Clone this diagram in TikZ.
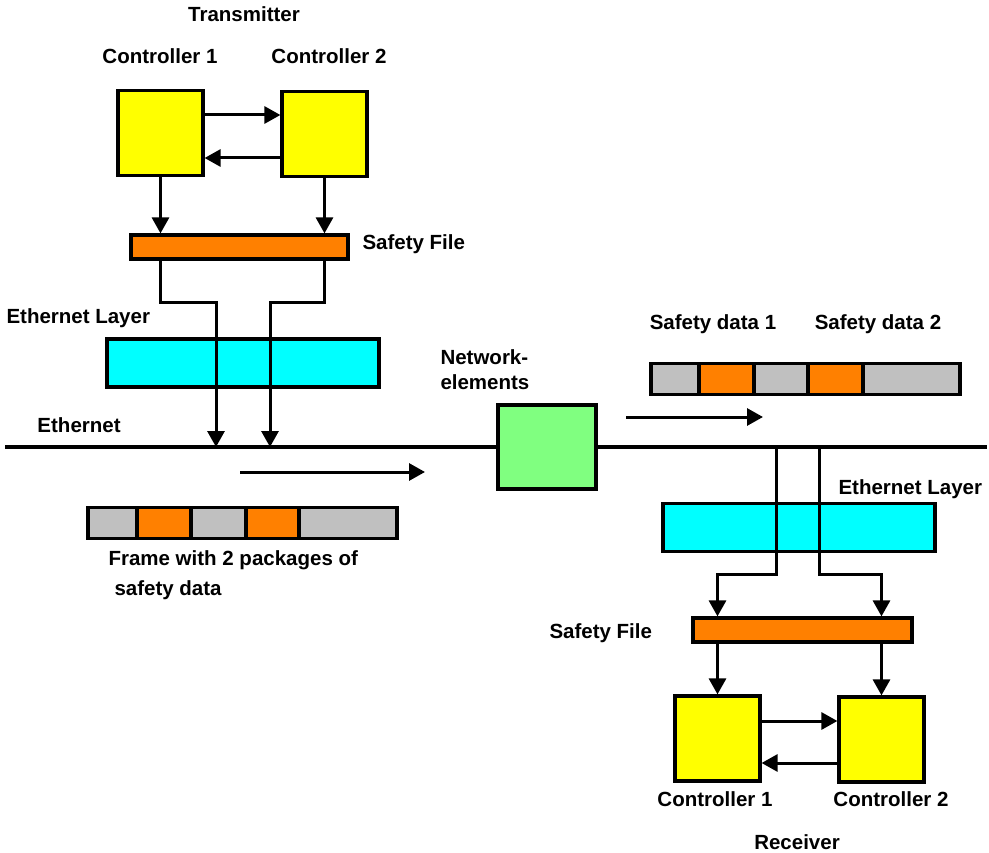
\documentclass[tikz,border=0pt]{standalone}
\usepackage{fontspec}
\setmainfont{Liberation Sans}
\usetikzlibrary{arrows.meta,positioning}
\definecolor{ctrlyellow}{HTML}{FFFF00}
\definecolor{fileorange}{HTML}{FF8000}
\definecolor{layercyan}{HTML}{00FFFF}
\definecolor{netgreen}{HTML}{80FF80}
\definecolor{seggray}{HTML}{C0C0C0}

\begin{document}
\begin{tikzpicture}[x=1pt, y=-1pt, line width=3pt, >={Triangle[length=16pt,width=17pt]},
  box/.style={draw, rectangle, line width=3.2pt, inner sep=0pt},
  ctrlbox/.style={box, fill=ctrlyellow, minimum width=85pt, minimum height=85pt},
  filebox/.style={box, fill=fileorange, minimum width=217pt, minimum height=24pt},
  layerbox/.style={box, fill=layercyan, minimum width=272pt, minimum height=48pt},
  netbox/.style={box, fill=netgreen, minimum width=98pt, minimum height=84pt},
  seg/.style={box, minimum height=31pt},
  lbl/.style={font=\bfseries\fontsize{20.5}{24}\selectfont, inner sep=0pt, anchor=base}]
\useasboundingbox (0,0) rectangle (989,853);

% transmitter
\node[ctrlbox] (c1T) at (160.5,133) {};
\node[ctrlbox] (c2T) at (324.5,134) {};
\node[filebox] (sfT) at (239.5,247) {};
\node[layerbox] (elT) at (243,363) {};
\node[lbl] (txlbl) at (244,22) {Transmitter};
\node[lbl] (c1Tlbl) at (160,64) {Controller 1};
\node[lbl] (c2Tlbl) at (329,64) {Controller 2};
\node[lbl, anchor=base west] (sfTlbl) at (361,250) {Safety File};
\node[lbl, anchor=base west] (elTlbl) at (5,324) {Ethernet Layer};

% ethernet
\coordinate (ethL) at (5,447);
\coordinate (ethR) at (987,447);
\node[netbox] (net) at (547,447) {};
\node[lbl, anchor=base west] (ethlbl) at (36,432) {Ethernet};
\node[lbl, anchor=base west] (netlbl1) at (439,365) {Network-};
\node[lbl, anchor=base west] (netlbl2) at (439,389) {elements};
\draw[line width=4pt] (ethL) -- (net.west) (net.east) -- (ethR);

% frames
\foreach \a/\b/\c [count=\i] in {88/137/seggray, 137/191/fileorange, 191/246/seggray, 246/299/fileorange, 299/397/seggray}
  \node[seg, fill=\c, minimum width=\b-\a] (frT\i) at ({(\a+\b)/2},523) {};
\foreach \a/\b/\c [count=\i] in {651/699/seggray, 699/754/fileorange, 754/808/seggray, 808/863/fileorange, 863/960/seggray}
  \node[seg, fill=\c, minimum width=\b-\a] (frR\i) at ({(\a+\b)/2},379) {};
\node[lbl, anchor=base west] (frTlbl1) at (107,565) {Frame with 2 packages of};
\node[lbl, anchor=base west] (frTlbl2) at (113,595) {safety data};
\node[lbl] (sd1lbl) at (713,330) {Safety data 1};
\node[lbl] (sd2lbl) at (878,330) {Safety data 2};

% receiver
\node[layerbox] (elR) at (799,527.5) {};
\node[filebox, minimum width=219pt] (sfR) at (802.5,630) {};
\node[ctrlbox] (c1R) at (717.5,738.5) {};
\node[ctrlbox] (c2R) at (881.5,739.5) {};
\node[lbl, anchor=base west] (elRlbl) at (837,494) {Ethernet Layer};
\node[lbl, anchor=base west] (sfRlbl) at (548,638) {Safety File};
\node[lbl] (c1Rlbl) at (715,806) {Controller 1};
\node[lbl] (c2Rlbl) at (891,806) {Controller 2};
\node[lbl] (rxlbl) at (797,849) {Receiver};

% connectors
\coordinate (tapT1) at (216,303);
\coordinate (tapT2) at (270,303);
\coordinate (tapR1) at (776,574);
\coordinate (tapR2) at (819,574);
\draw[->] ([yshift=18pt]c1T.east) -- ([yshift=18pt]c1T.east -| c2T.west);
\draw[->] ([yshift=-24pt]c2T.west) -- ([yshift=-24pt]c2T.west -| c1T.east);
\draw[->] (c1T.south) -- (c1T.south |- sfT.north);
\draw[->] (c2T.south) -- (c2T.south |- sfT.north);
\draw[->] (c1T.south |- sfT.south) |- (tapT1) -- (tapT1 |- ethL);
\draw[->] (c2T.south |- sfT.south) |- (tapT2) -- (tapT2 |- ethL);
\draw[->] (tapR1 |- ethR) -- (tapR1) -| (sfR.north -| c1R.north);
\draw[->] (tapR2 |- ethR) -- (tapR2) -| (sfR.north -| c2R.north);
\draw[->] (sfR.south -| c1R.north) -- (c1R.north);
\draw[->] (sfR.south -| c2R.north) -- (c2R.north);
\draw[->] ([yshift=17.5pt]c1R.east) -- ([yshift=17.5pt]c1R.east -| c2R.west);
\draw[->] ([yshift=-23.5pt]c2R.west) -- ([yshift=-23.5pt]c2R.west -| c1R.east);

% flow direction
\coordinate (flowT0) at (240,472);
\coordinate (flowT1) at (425,472);
\coordinate (flowR0) at (626,417);
\coordinate (flowR1) at (763,417);
\draw[->] (flowT0) -- (flowT1);
\draw[->] (flowR0) -- (flowR1);
\end{tikzpicture}
\end{document}
